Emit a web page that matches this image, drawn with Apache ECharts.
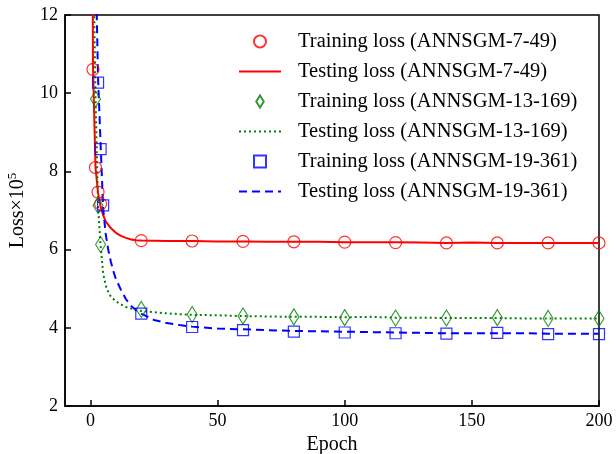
<!DOCTYPE html>
<html>
<head>
<meta charset="utf-8">
<script src="https://cdn.jsdelivr.net/npm/echarts@6/dist/echarts.min.js"></script>
<style>
  html, body { margin: 0; padding: 0; background: #fff; }
  #chart { width: 616px; height: 454px; }
</style>
</head>
<body>
<div id="chart"></div>
<script>
// Tick labels
const xTicks = [0, 50, 100, 150, 200];

// ANNSGM-7-49
const trainEpochs7 = [1, 2, 3, 4, 20, 40, 60, 80, 100, 120, 140, 160, 180, 200];
const trainLoss7 = [10.61, 8.10, 7.47, 7.17, 6.23, 6.22, 6.21, 6.20, 6.19, 6.18, 6.17, 6.17, 6.17, 6.17];
const testEpochs7 = [0, 1, 2, 3, 4, 5, 6, 8, 10, 12, 14, 16, 18, 20, 30, 40, 50, 60, 70, 80, 90, 100, 110, 120, 130, 140, 150, 160, 170, 180, 190, 200];
const testLoss7 = [30, 10.7, 8.1, 7.45, 7.1, 6.88, 6.72, 6.55, 6.43, 6.35, 6.3, 6.26, 6.24, 6.23, 6.22, 6.22, 6.21, 6.21, 6.2, 6.2, 6.2, 6.19, 6.19, 6.19, 6.18, 6.17, 6.18, 6.17, 6.17, 6.17, 6.17, 6.17];

// ANNSGM-13-169
const trainEpochs13 = [2, 3, 4, 20, 40, 60, 80, 100, 120, 140, 160, 180, 200];
const trainLoss13 = [9.85, 7.13, 6.13, 4.47, 4.34, 4.30, 4.28, 4.26, 4.25, 4.25, 4.26, 4.24, 4.24];
const testEpochs13 = [0, 1, 2, 3, 4, 5, 6, 7, 8, 10, 12, 14, 16, 18, 20, 25, 30, 35, 40, 50, 60, 70, 80, 90, 100, 110, 120, 130, 140, 150, 160, 170, 180, 190, 200];
const testLoss13 = [30, 14, 9.9, 7.1, 6.1, 5.4, 5.08, 4.92, 4.8, 4.68, 4.6, 4.53, 4.49, 4.46, 4.43, 4.4, 4.37, 4.35, 4.33, 4.32, 4.3, 4.29, 4.28, 4.28, 4.27, 4.28, 4.26, 4.26, 4.25, 4.25, 4.25, 4.24, 4.24, 4.24, 4.24];

// ANNSGM-19-361
const trainEpochs19 = [3, 4, 5, 20, 40, 60, 80, 100, 120, 140, 160, 180, 200];
const trainLoss19 = [10.27, 8.57, 7.13, 4.36, 4.02, 3.94, 3.90, 3.88, 3.86, 3.85, 3.87, 3.84, 3.84];
const testEpochs19 = [0, 1, 2, 3, 4, 5, 6, 7, 8, 9, 10, 12, 14, 16, 18, 20, 25, 30, 35, 40, 50, 60, 70, 80, 90, 100, 110, 120, 130, 140, 150, 160, 170, 180, 190, 200];
const testLoss19 = [40, 25, 13.5, 10.4, 8.7, 7.05, 6.4, 6.0, 5.7, 5.45, 5.25, 4.97, 4.73, 4.56, 4.45, 4.36, 4.2, 4.12, 4.07, 4.03, 3.98, 3.96, 3.94, 3.92, 3.91, 3.9, 3.89, 3.88, 3.87, 3.86, 3.86, 3.86, 3.86, 3.85, 3.85, 3.85];

const pair = (xs, ys) => xs.map((x, i) => [x, ys[i]]);

const FONT = "'Liberation Serif', 'Times New Roman', serif";
const RED = '#ff0000', GREEN = '#008000', BLUE = '#0000ff';
const DIAMOND = 'path://M5,0L10,8L5,16L0,8Z';
const SQUARE = 'path://M0,0L10,0L10,10L0,10Z';

function trainSeries(name, xs, ys, symbol, size, color) {
  return {
    name, type: 'scatter', data: pair(xs, ys), symbol, symbolSize: size,
    itemStyle: { color: 'rgba(255,255,255,0)', borderColor: color, borderWidth: 1.2 },
    z: 3, clip: true
  };
}
function testSeries(name, xs, ys, color, type) {
  return {
    name, type: 'line', data: pair(xs, ys), showSymbol: false, symbol: 'none',
    lineStyle: { color, width: 2, type }, itemStyle: { color },
    z: 2, clip: true
  };
}

// legend entries: training = marker only, testing = line only
const lineOnly = { itemStyle: { opacity: 0 } };

const chart = echarts.init(document.getElementById('chart'), null, { renderer: 'canvas' });
chart.setOption({
  animation: false,
  backgroundColor: '#fff',
  textStyle: { fontFamily: FONT },
  grid: {
    left: 65, right: 17, top: 15, bottom: 48,
    outerBoundsMode: 'none', containLabel: false,
    show: true, borderColor: '#000', borderWidth: 1.5, backgroundColor: 'transparent'
  },
  legend: {
    orient: 'vertical', left: 233, top: 26,
    itemWidth: 42, itemHeight: 12, itemGap: 9,
    symbolKeepAspect: true,
    textStyle: { fontFamily: FONT, fontSize: 20.5, color: '#000', padding: [0, 0, 0, 12] },
    data: [
      { name: 'Training loss (ANNSGM-7-49)', icon: 'circle' },
      Object.assign({ name: 'Testing loss (ANNSGM-7-49)' }, lineOnly),
      { name: 'Training loss (ANNSGM-13-169)', icon: DIAMOND },
      Object.assign({ name: 'Testing loss (ANNSGM-13-169)' }, lineOnly),
      { name: 'Training loss (ANNSGM-19-361)', icon: SQUARE },
      Object.assign({ name: 'Testing loss (ANNSGM-19-361)' }, lineOnly)
    ]
  },
  xAxis: {
    type: 'value', min: -10, max: 200,
    name: 'Epoch', nameLocation: 'middle', nameGap: 28,
    nameTextStyle: { fontFamily: FONT, fontSize: 20, color: '#000' },
    axisLine: { show: true, onZero: false, lineStyle: { color: '#000', width: 1.5 } },
    axisTick: { show: true, inside: true, length: 6, customValues: xTicks, lineStyle: { color: '#000', width: 1.5 } },
    axisLabel: { customValues: xTicks, fontFamily: FONT, fontSize: 18, color: '#000', margin: 6 },
    splitLine: { show: false }
  },
  yAxis: {
    type: 'value', min: 2, max: 12, interval: 2,
    name: 'Loss×10{sup|5}', nameLocation: 'middle', nameGap: 35, nameRotate: 90,
    nameTextStyle: {
      fontFamily: FONT, fontSize: 20, color: '#000',
      rich: { sup: { fontFamily: FONT, fontSize: 13, color: '#000', verticalAlign: 'top', padding: [0, 0, 11, 0] } }
    },
    axisLine: { show: true, onZero: false, lineStyle: { color: '#000', width: 1.5 } },
    axisTick: { show: true, inside: true, length: 6, lineStyle: { color: '#000', width: 1.5 } },
    axisLabel: { fontFamily: FONT, fontSize: 18, color: '#000', margin: 7 },
    splitLine: { show: false }
  },
  series: [
    trainSeries('Training loss (ANNSGM-7-49)', trainEpochs7, trainLoss7, 'circle', 12, RED),
    testSeries('Testing loss (ANNSGM-7-49)', testEpochs7, testLoss7, RED, 'solid'),
    trainSeries('Training loss (ANNSGM-13-169)', trainEpochs13, trainLoss13, 'diamond', [10, 16], GREEN),
    testSeries('Testing loss (ANNSGM-13-169)', testEpochs13, testLoss13, GREEN, [2, 3]),
    trainSeries('Training loss (ANNSGM-19-361)', trainEpochs19, trainLoss19, 'rect', 11, BLUE),
    testSeries('Testing loss (ANNSGM-19-361)', testEpochs19, testLoss19, BLUE, [8, 5])
  ]
});
</script>
</body>
</html>
